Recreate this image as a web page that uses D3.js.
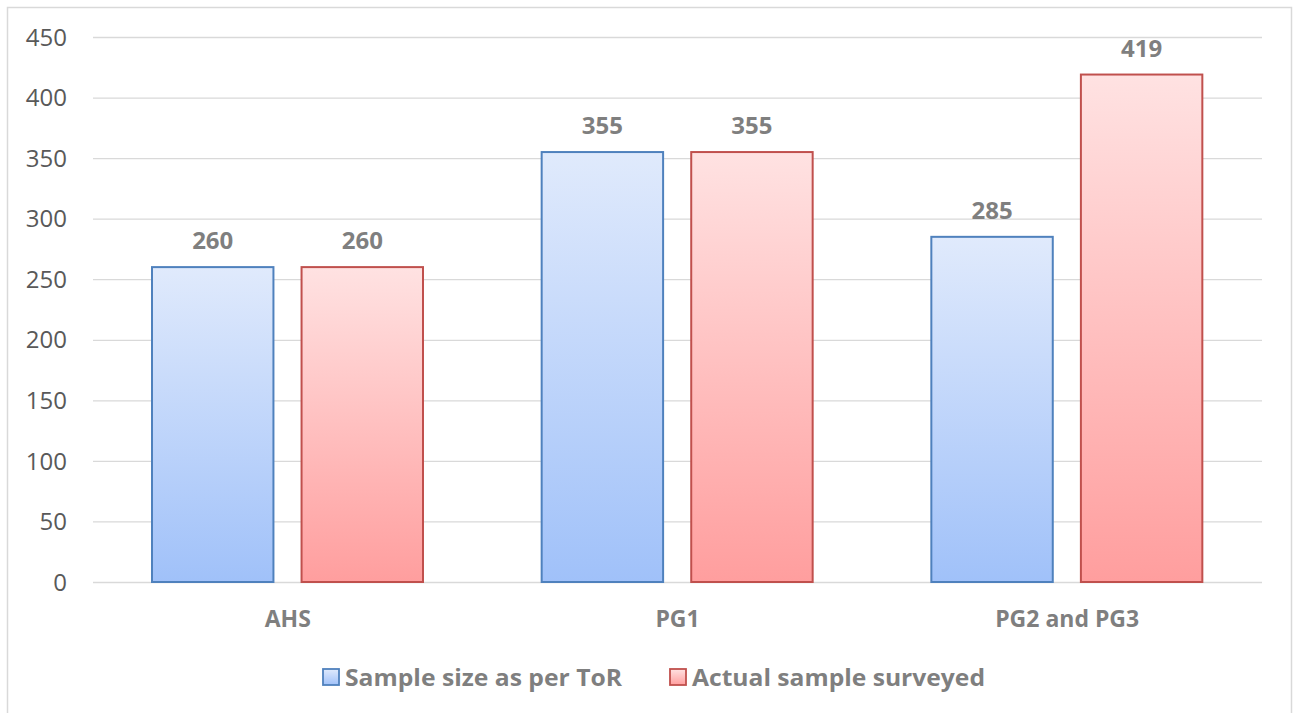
<!DOCTYPE html>
<html>
<head>
<meta charset="utf-8">
<script src="https://cdn.jsdelivr.net/npm/d3@7/dist/d3.min.js"></script>
<style>
  html, body { margin: 0; padding: 0; background: #fff; }
  svg { display: block; font-family: "Open Sans", Lato, "Liberation Sans", sans-serif; }
</style>
</head>
<body>
<svg id="chart" width="1301" height="713"></svg>
<script>
const categories = ["AHS", "PG1", "PG2 and PG3"];
const seriesNames = ["Sample size as per ToR", "Actual sample surveyed"];
const torValues = [260, 355, 285];
const actualValues = [260, 355, 419];
const yTicks = [0, 50, 100, 150, 200, 250, 300, 350, 400, 450];

const W = 1301, H = 713;
const margin = { left: 93, right: 39, top: 37, bottom: 131 };
const svg = d3.select("#chart");

// chart frame
svg.append("rect").attr("x", 7.5).attr("y", 7.5).attr("width", 1284).attr("height", 720)
  .attr("fill", "#fff").attr("stroke", "#d9d9d9").attr("stroke-width", 1.5);

const x0 = d3.scaleBand().domain(categories).range([margin.left, W - margin.right]);
const x1 = d3.scaleBand().domain(seriesNames).range([59, 330]).paddingInner(0.188).paddingOuter(0);
const y = d3.scaleLinear().domain([0, 450]).range([H - margin.bottom, margin.top]);

const defs = svg.append("defs");
const grads = [
  { id: "gBlue", top: "#e0eafc", bottom: "#a0c1f9", stroke: "#4f81bd" },
  { id: "gRed", top: "#ffe2e2", bottom: "#ff9e9e", stroke: "#c0504d" }
];
grads.forEach(g => {
  const lg = defs.append("linearGradient").attr("id", g.id)
    .attr("x1", 0).attr("y1", 0).attr("x2", 0).attr("y2", 1);
  lg.append("stop").attr("offset", "0%").attr("stop-color", g.top);
  lg.append("stop").attr("offset", "100%").attr("stop-color", g.bottom);
});

// gridlines and y axis labels
const yAxis = d3.axisLeft(y).tickValues(yTicks).tickSize(-(W - margin.left - margin.right)).tickPadding(26);
const ga = svg.append("g").attr("transform", `translate(${margin.left},0)`).call(yAxis);
ga.select(".domain").remove();
ga.selectAll(".tick line").attr("stroke", "#d9d9d9").attr("stroke-width", 1.3);
ga.selectAll(".tick text").attr("fill", "#595959").attr("font-size", 24)
  .attr("font-family", "'Open Sans', sans-serif").attr("dy", "0.34em");

const series = [torValues, actualValues];
const groups = svg.append("g");
categories.forEach((c, ci) => {
  series.forEach((vals, si) => {
    const bx = x0(c) + x1(seriesNames[si]);
    const v = vals[ci];
    groups.append("rect")
      .attr("x", bx).attr("y", y(v))
      .attr("width", x1.bandwidth()).attr("height", y(0) - y(v))
      .attr("fill", `url(#${grads[si].id})`)
      .attr("stroke", grads[si].stroke).attr("stroke-width", 2);
    groups.append("text")
      .attr("x", bx + x1.bandwidth() / 2).attr("y", y(v) - 18)
      .attr("text-anchor", "middle").attr("font-size", 24).attr("font-weight", "bold")
      .attr("fill", "#7f7f7f").text(v);
  });
  svg.append("text")
    .attr("x", x0(c) + x0.bandwidth() / 2).attr("y", 627)
    .attr("text-anchor", "middle").attr("font-size", 23).attr("font-weight", "bold")
    .attr("fill", "#7f7f7f").text(c);
});

// legend
const legendItems = [
  { name: seriesNames[0], x: 323, len: 277, g: grads[0] },
  { name: seriesNames[1], x: 670, len: 293, g: grads[1] }
];
legendItems.forEach(it => {
  svg.append("rect").attr("x", it.x).attr("y", 669).attr("width", 16).attr("height", 16)
    .attr("fill", `url(#${it.g.id})`).attr("stroke", it.g.stroke).attr("stroke-width", 1.8);
  svg.append("text").attr("x", it.x + 22).attr("y", 686)
    .attr("font-size", 24).attr("font-weight", "bold").attr("fill", "#7f7f7f")
    .attr("textLength", it.len).attr("lengthAdjust", "spacingAndGlyphs").text(it.name);
});
</script>
</body>
</html>
